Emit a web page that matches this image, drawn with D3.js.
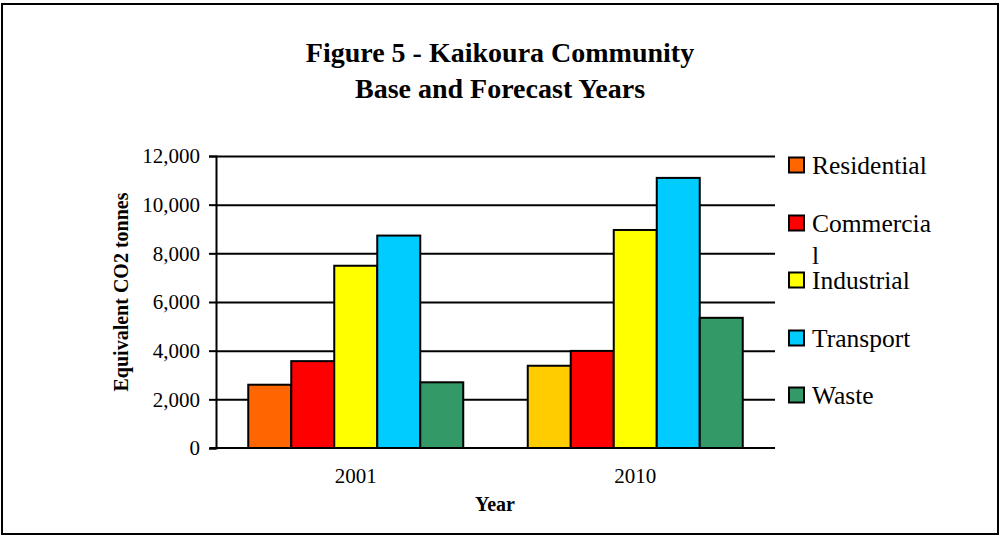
<!DOCTYPE html>
<html>
<head>
<meta charset="utf-8">
<script src="https://cdn.jsdelivr.net/npm/d3@7"></script>
<style>
  html, body { margin: 0; padding: 0; background: #fff; }
  svg { display: block; }
</style>
</head>
<body>
<svg id="chart" width="1000" height="536"></svg>
<script>
// ---- data ----
const years = ["2001", "2010"];
const categories = ["Residential", "Commercial", "Industrial", "Transport", "Waste"];
const legendLabels = [["Residential"], ["Commercia", "l"], ["Industrial"], ["Transport"], ["Waste"]];
const residential = [2600, 3380];
const commercial = [3570, 3990];
const industrial = [7490, 8960];
const transport = [8730, 11100];
const waste = [2700, 5350];
const yTicks = [0, 2000, 4000, 6000, 8000, 10000, 12000];
const titleLines = ["Figure 5 - Kaikoura Community", "Base and Forecast Years"];
const seriesColors = ["#FF6600", "#FF0000", "#FFFF00", "#00CCFF", "#339966"];
// per-point colour override (2010 residential bar drawn in gold)
const pointColors = { "Residential|2010": "#FFCC00" };

const seriesValues = [residential, commercial, industrial, transport, waste];
const FONT = "'Liberation Serif', 'Times New Roman', Times, serif";

// ---- layout ----
const svg = d3.select("#chart");
const plot = { left: 216, right: 775, top: 156, bottom: 448 };

svg.append("rect").attr("x", 2).attr("y", 4).attr("width", 996).attr("height", 530)
  .attr("fill", "#fff").attr("stroke", "#000").attr("stroke-width", 2);

// title
svg.append("g").selectAll("text").data(titleLines).join("text")
  .attr("x", 500).attr("y", (d, i) => 62 + i * 36)
  .attr("text-anchor", "middle").attr("font-family", FONT)
  .attr("font-weight", "bold").attr("font-size", 28)
  .text(d => d);

const y = d3.scaleLinear().domain([0, 12000]).range([plot.bottom, plot.top]);
const x0 = d3.scaleBand().domain(years).range([plot.left, plot.right]).padding(0);
const x1 = d3.scaleBand().domain(categories).range([0, x0.bandwidth()]).paddingInner(0).paddingOuter(0.75);

// gridlines
svg.append("g").attr("transform", `translate(${plot.left},0)`)
  .call(d3.axisLeft(y).tickValues(yTicks.filter(v => v > 0)).tickSize(-(plot.right - plot.left)).tickFormat(""))
  .call(g => g.select(".domain").remove())
  .call(g => g.selectAll("line").attr("stroke", "#000").attr("stroke-width", 2));

// bars
const barData = [];
categories.forEach((c, ci) => years.forEach((yr, yi) => {
  barData.push({ cat: c, year: yr, value: seriesValues[ci][yi],
    color: pointColors[c + "|" + yr] || seriesColors[ci] });
}));
svg.append("g").selectAll("rect").data(barData).join("rect")
  .attr("x", d => x0(d.year) + x1(d.cat))
  .attr("y", d => y(d.value))
  .attr("width", x1.bandwidth())
  .attr("height", d => y(0) - y(d.value))
  .attr("fill", d => d.color)
  .attr("stroke", "#000").attr("stroke-width", 2);

// y axis
const yAxis = svg.append("g").attr("transform", `translate(${plot.left},0)`)
  .call(d3.axisLeft(y).tickValues(yTicks).tickSize(7).tickPadding(9).tickFormat(d3.format(",")));
yAxis.select(".domain").attr("stroke", "#000").attr("stroke-width", 2);
yAxis.selectAll(".tick line").attr("stroke", "#000").attr("stroke-width", 2);
yAxis.selectAll(".tick text").attr("font-family", FONT).attr("font-size", 21).attr("fill", "#000");

// x axis
const xAxis = svg.append("g").attr("transform", `translate(0,${plot.bottom})`)
  .call(d3.axisBottom(x0).tickSize(0).tickPadding(20));
xAxis.select(".domain").attr("d", `M${plot.left - 6},0H${plot.right}`).attr("stroke", "#000").attr("stroke-width", 2);
xAxis.selectAll(".tick text").attr("font-family", FONT).attr("font-size", 21).attr("fill", "#000");

// axis titles
svg.append("text").attr("x", 495).attr("y", 511).attr("text-anchor", "middle")
  .attr("font-family", FONT).attr("font-weight", "bold").attr("font-size", 20).text("Year");
svg.append("text").attr("transform", "translate(128,292) rotate(-90)").attr("text-anchor", "middle")
  .attr("font-family", FONT).attr("font-weight", "bold").attr("font-size", 20).text("Equivalent CO2 tonnes");

// legend
const legendY = [165, 223, 280, 338, 395];
const lg = svg.append("g").selectAll("g").data(categories).join("g")
  .attr("transform", (d, i) => `translate(789,${legendY[i]})`);
lg.append("rect").attr("x", 0).attr("y", -7.5).attr("width", 15).attr("height", 15)
  .attr("fill", (d, i) => seriesColors[i]).attr("stroke", "#000").attr("stroke-width", 2);
lg.append("text").attr("x", 23).attr("y", 9).attr("font-family", FONT).attr("font-size", 25.5)
  .selectAll("tspan").data((d, i) => legendLabels[i]).join("tspan")
  .attr("x", 23).attr("dy", (d, j) => j === 0 ? 0 : 32).text(d => d);
</script>
</body>
</html>
